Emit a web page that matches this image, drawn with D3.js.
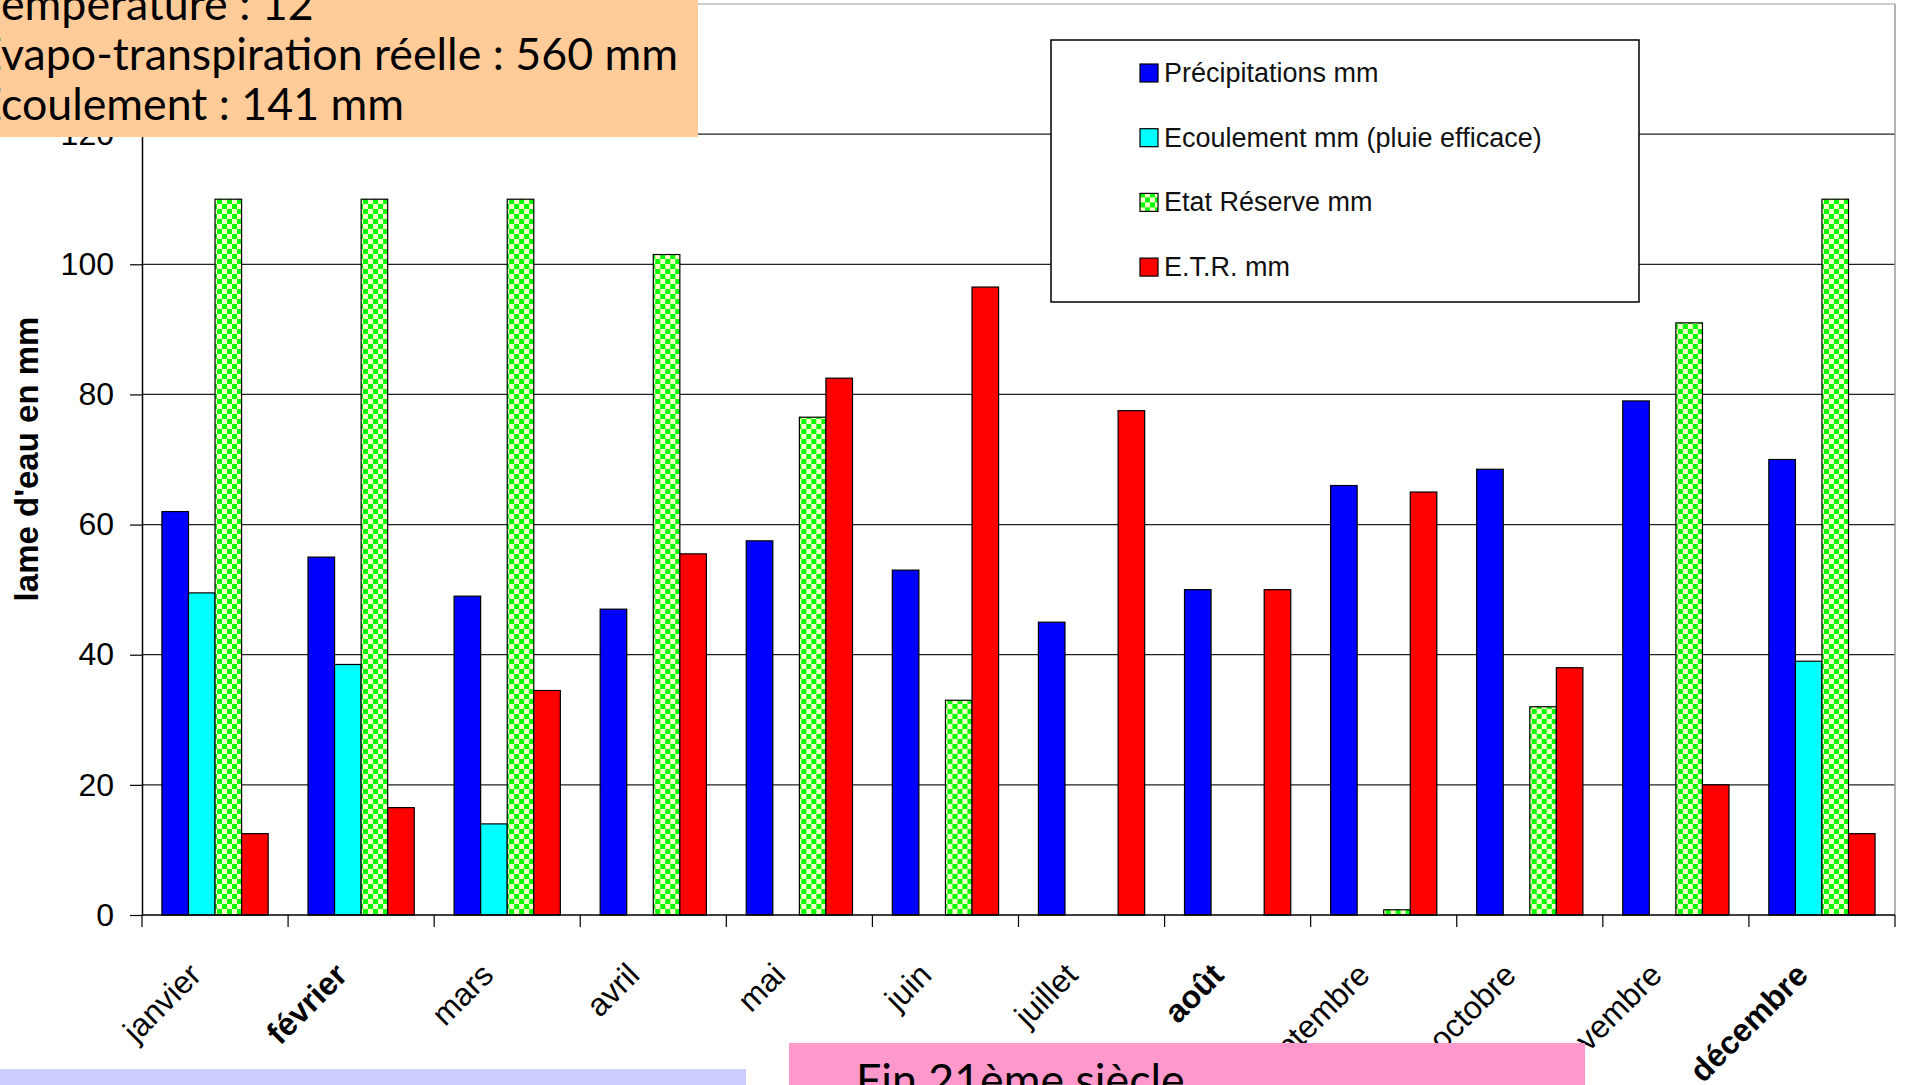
<!DOCTYPE html>
<html>
<head>
<meta charset="utf-8">
<script src="https://cdn.jsdelivr.net/npm/d3@7"></script>
<style>
  body { margin: 0; background: #fff; overflow: hidden; }
  svg { display: block; }
</style>
</head>
<body>
<div id="viz"></div>
<script>
// Données
const months = ['janvier', 'février', 'mars', 'avril', 'mai', 'juin', 'juillet', 'août', 'septembre', 'octobre', 'novembre', 'décembre'];
const boldMonths = ['février', 'août', 'décembre'];
const seriesNames = ['Précipitations mm', 'Ecoulement mm (pluie efficace)', 'Etat Réserve mm', 'E.T.R. mm'];
const precipitations = [62, 55, 49, 47, 57.5, 53, 45, 50, 66, 68.5, 79, 70];
const ecoulement = [49.5, 38.5, 14, 0, 0, 0, 0, 0, 0, 0, 0, 39];
const reserve = [110, 110, 110, 101.5, 76.5, 33, 0, 0, 0.8, 32, 91, 110];
const etr = [12.5, 16.5, 34.5, 55.5, 82.5, 96.5, 77.5, 50, 65, 38, 20, 12.5];
const yTicks = [0, 20, 40, 60, 80, 100, 120, 140];
const infoLines = ['Température : 12', 'Evapo-transpiration réelle : 560 mm', 'Ecoulement : 141 mm'];
const bottomTitle = 'Fin 21ème siècle';

//Colores fijos
const COLOR_PRECIP = '#0000FF',
      COLOR_ECOUL = '#00FFFF',
      COLOR_ETR = '#FF0000',
      COLOR_CHECK_1 = '#00FF00',
      COLOR_CHECK_2 = '#FFFFCC';

const W = 1905, H = 1085;
let margin = {top: 4, right: 10, bottom: 170, left: 142};
let width = W - margin.left - margin.right,
    height = H - margin.top - margin.bottom;

let svg = d3.select('#viz').append('svg')
    .attr('width', W)
    .attr('height', H);

// motif damier pour "Etat Réserve"
let pat = svg.append('defs').append('pattern')
    .attr('id', 'damier')
    .attr('patternUnits', 'userSpaceOnUse')
    .attr('width', 10).attr('height', 10);
pat.append('rect').attr('width', 10).attr('height', 10).attr('fill', COLOR_CHECK_2);
pat.append('rect').attr('width', 5).attr('height', 5).attr('fill', COLOR_CHECK_1);
pat.append('rect').attr('x', 5).attr('y', 5).attr('width', 5).attr('height', 5).attr('fill', COLOR_CHECK_1);

const fills = [COLOR_PRECIP, COLOR_ECOUL, 'url(#damier)', COLOR_ETR];
const seriesValues = [precipitations, ecoulement, reserve, etr];

let g = svg.append('g')
    .attr('transform', 'translate(' + margin.left + ',' + margin.top + ')');

// Escalas
let x = d3.scaleBand().domain(months).range([0, width]).padding(0);
let x1 = d3.scaleBand().domain(seriesNames).range([0, x.bandwidth()])
    .paddingInner(0).paddingOuter(0.75);
let y = d3.scaleLinear().domain([0, 140]).range([height, 0]);

// Grille
g.append('g').selectAll('line')
    .data(yTicks.filter(d => d > 0))
    .enter().append('line')
    .attr('x1', 0).attr('x2', width)
    .attr('y1', d => y(d)).attr('y2', d => y(d))
    .attr('stroke', d => d == 140 ? '#999' : '#222')
    .attr('stroke-width', 1.2);

// bord droit
g.append('line')
    .attr('x1', width).attr('x2', width)
    .attr('y1', 0).attr('y2', height)
    .attr('stroke', '#999').attr('stroke-width', 1.5);

// Barres
let rows = months.map((m, i) => ({
    month: m,
    values: seriesNames.map((s, k) => ({serie: s, k: k, value: seriesValues[k][i]}))
}));

g.append('g').selectAll('g')
    .data(rows)
    .enter().append('g')
    .attr('transform', d => 'translate(' + x(d.month) + ',0)')
    .selectAll('rect')
    .data(d => d.values.filter(v => v.value > 0))
    .enter().append('rect')
    .attr('x', d => x1(d.serie))
    .attr('width', x1.bandwidth())
    .attr('y', d => y(d.value))
    .attr('height', d => height - y(d.value))
    .attr('fill', d => fills[d.k])
    .attr('stroke', '#000')
    .attr('stroke-width', 1.2);

// Axe Y
let yAxis = g.append('g')
    .call(d3.axisLeft(y).tickValues(yTicks).tickSize(12).tickSizeOuter(0).tickPadding(16));
yAxis.select('.domain').attr('stroke', '#000').attr('stroke-width', 1.5);
yAxis.selectAll('line').attr('stroke', '#000').attr('stroke-width', 1.2);
yAxis.selectAll('text')
    .attr('font-family', 'Liberation Sans, Arial, sans-serif')
    .attr('font-size', 32)
    .attr('fill', '#000');

// Axe X : ligne + graduations entre les catégories
g.append('line')
    .attr('x1', 0).attr('x2', width)
    .attr('y1', height).attr('y2', height)
    .attr('stroke', '#000').attr('stroke-width', 1.5);

g.append('g').selectAll('line')
    .data(months.map(m => x(m)).concat([width]))
    .enter().append('line')
    .attr('x1', d => d).attr('x2', d => d)
    .attr('y1', height).attr('y2', height + 12)
    .attr('stroke', '#000').attr('stroke-width', 1.2);

g.append('g').selectAll('text')
    .data(months)
    .enter().append('text')
    .attr('transform', d => 'translate(' + (x(d) + x.bandwidth() / 2 - 12) + ',' + (height + 62) + ') rotate(-45)')
    .attr('text-anchor', 'end')
    .attr('font-family', 'Liberation Sans, Arial, sans-serif')
    .attr('font-size', 32)
    .attr('font-weight', d => boldMonths.includes(d) ? 'bold' : 'normal')
    .attr('fill', '#000')
    .text(d => d);

// Titre axe Y
svg.append('text')
    .attr('transform', 'translate(38,459) rotate(-90)')
    .attr('text-anchor', 'middle')
    .attr('font-family', 'Liberation Sans, Arial, sans-serif')
    .attr('font-weight', 'bold')
    .attr('font-size', 33)
    .attr('fill', '#000')
    .text("lame d'eau en mm");

// Légende
let legend = svg.append('g').attr('transform', 'translate(1051,40)');
legend.append('rect')
    .attr('width', 588).attr('height', 262)
    .attr('fill', '#fff').attr('stroke', '#000').attr('stroke-width', 1.5);
let legItems = legend.selectAll('g.item')
    .data(seriesNames)
    .enter().append('g')
    .attr('class', 'item')
    .attr('transform', (d, i) => 'translate(89,' + (33 + i * 64.7) + ')');
legItems.append('rect')
    .attr('x', 0).attr('y', -9)
    .attr('width', 18).attr('height', 18)
    .attr('fill', (d, i) => fills[i])
    .attr('stroke', '#000').attr('stroke-width', 1.2);
legItems.append('text')
    .attr('x', 24).attr('y', 9)
    .attr('font-family', 'Liberation Sans, Arial, sans-serif')
    .attr('font-size', 27)
    .attr('fill', '#111')
    .text(d => d);

// Encadré orange (texte coupé à gauche)
svg.append('rect')
    .attr('x', 0).attr('y', 0).attr('width', 698).attr('height', 137)
    .attr('fill', '#FFCC99');

const infoFont = 'Lato, Noto Sans, sans-serif';
let infoText = svg.append('g').selectAll('text')
    .data(infoLines)
    .enter().append('text')
    .attr('y', (d, i) => 20 + i * 50)
    .attr('font-family', infoFont)
    .attr('font-size', 45)
    .attr('fill', '#000')
    .text(d => d);

// ajustement horizontal : le texte visible de la 2e ligne finit vers x = 677
let ref = infoText.nodes()[1];
let sx = 677 / (ref.getComputedTextLength() - ref.getSubStringLength(0, 1));
infoText.each(function() {
    let full = this.getComputedTextLength();
    let first = this.getSubStringLength(0, 1);
    d3.select(this)
        .attr('textLength', full * sx)
        .attr('lengthAdjust', 'spacingAndGlyphs')
        .attr('x', -first * sx + 1);
});

// Encadrés du bas
svg.append('rect')
    .attr('x', 0).attr('y', 1069).attr('width', 746).attr('height', 16)
    .attr('fill', '#CCCCFF');
svg.append('rect')
    .attr('x', 789).attr('y', 1043).attr('width', 796).attr('height', 42)
    .attr('fill', '#FF99CC');
let bt = svg.append('text')
    .attr('x', 856).attr('y', 1096)
    .attr('font-family', infoFont)
    .attr('font-size', 45)
    .attr('fill', '#000')
    .text(bottomTitle);
bt.attr('textLength', bt.node().getComputedTextLength() * sx)
  .attr('lengthAdjust', 'spacingAndGlyphs');
</script>
</body>
</html>
